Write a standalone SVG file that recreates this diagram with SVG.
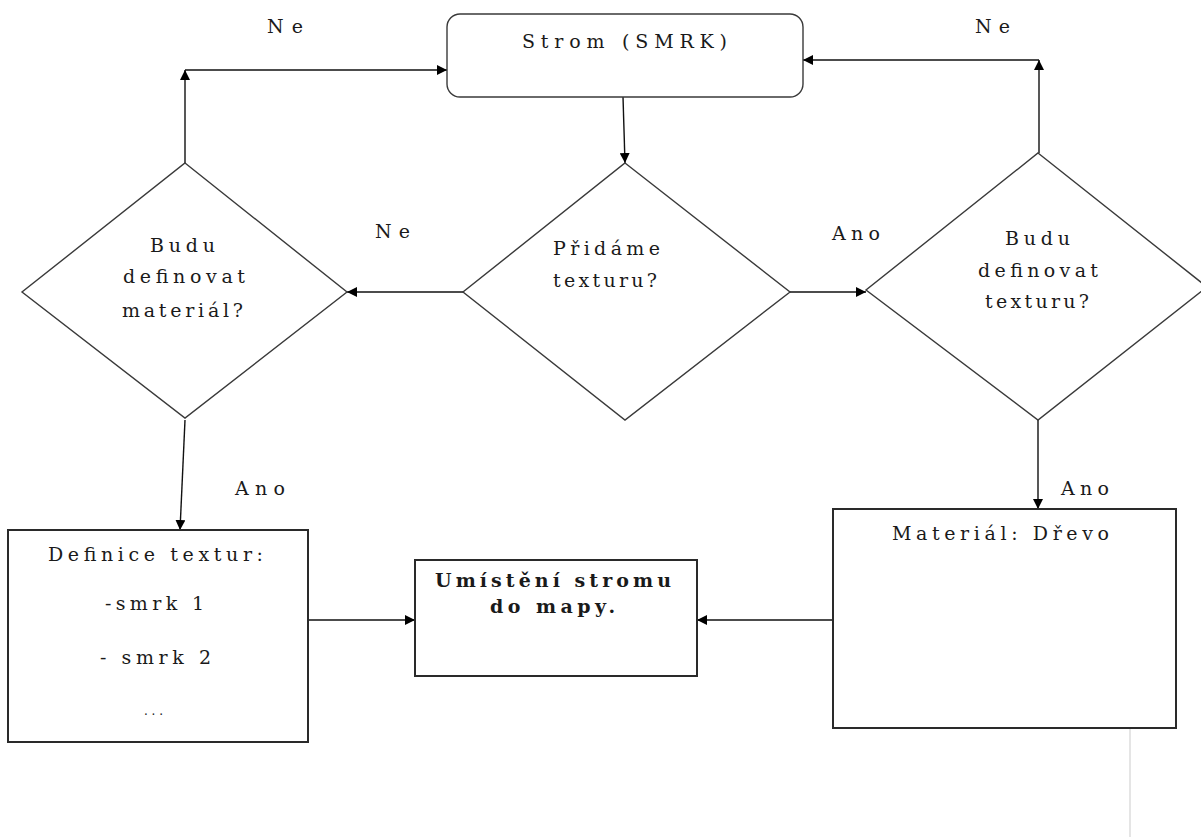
<svg xmlns="http://www.w3.org/2000/svg" width="1201" height="837" viewBox="0 0 1201 837">
<style>
.shape{fill:#fff;stroke:#3a3a3a;stroke-width:1.4}
.box{fill:#fff;stroke:#2a2a2a;stroke-width:2}
.t{font-family:"DejaVu Serif","Liberation Serif",serif;font-size:19px;fill:#1a1a1a}
.b{font-weight:bold;font-size:19px}
.c{stroke:#111;stroke-width:1.4;fill:none;marker-end:url(#ah)}
</style>
<defs>
<marker id="ah" viewBox="0 0 10 10" refX="10" refY="5" markerWidth="10" markerHeight="10" markerUnits="userSpaceOnUse" orient="auto">
<path d="M0,0 L10,5 L0,10 z" fill="#000"/>
</marker>
</defs>
<rect width="1201" height="837" fill="#fff"/>
<line x1="1130" y1="510" x2="1130" y2="837" stroke="#dcdcdc" stroke-width="1.5"/>

<g id="connectors">
<line class="c" x1="623" y1="97" x2="625" y2="163"/>
<line class="c" x1="463" y1="292" x2="347" y2="292"/>
<line class="c" x1="790" y1="292" x2="866" y2="292"/>
<line class="c" x1="185" y1="163" x2="185" y2="70"/>
<line class="c" x1="185" y1="70" x2="447" y2="70"/>
<line class="c" x1="1039" y1="153" x2="1039" y2="60"/>
<line class="c" x1="1039" y1="60" x2="803" y2="60"/>
<line class="c" x1="185" y1="420" x2="180" y2="530"/>
<line class="c" x1="1038" y1="420" x2="1038" y2="509"/>
<line class="c" x1="308" y1="620" x2="415" y2="620"/>
<line class="c" x1="833" y1="620" x2="697" y2="620"/>
</g>

<g id="labels">
<text class="t" x="267" y="33" textLength="36" lengthAdjust="spacing">Ne</text>
<text class="t" x="975" y="33" textLength="35" lengthAdjust="spacing">Ne</text>
<text class="t" x="375" y="238" textLength="35" lengthAdjust="spacing">Ne</text>
<text class="t" x="832" y="240" textLength="48" lengthAdjust="spacing">Ano</text>
<text class="t" x="235" y="495" textLength="50" lengthAdjust="spacing">Ano</text>
<text class="t" x="1061" y="495" textLength="48" lengthAdjust="spacing">Ano</text>
</g>

<g id="strom">
<rect class="shape" x="447" y="14" width="356" height="83" rx="13"/>
<text class="t" x="522" y="48" textLength="205" lengthAdjust="spacing">Strom (SMRK)</text>
</g>

<g id="pridame">
<polygon class="shape" points="625,163 790,292 625,420 463,292"/>
<text class="t" x="553" y="255" textLength="107" lengthAdjust="spacing">Přidáme</text>
<text class="t" x="553" y="287" textLength="104" lengthAdjust="spacing">texturu?</text>
</g>

<g id="material-q">
<polygon class="shape" points="185,163 347,292 185,418 22,292"/>
<text class="t" x="150" y="252" textLength="65" lengthAdjust="spacing">Budu</text>
<text class="t" x="123" y="283" textLength="122" lengthAdjust="spacing">definovat</text>
<text class="t" x="122" y="317" textLength="121" lengthAdjust="spacing">materiál?</text>
</g>

<g id="textura-q">
<polygon class="shape" points="1038,153 1207,287 1038,420 866,290"/>
<text class="t" x="1005" y="245" textLength="65" lengthAdjust="spacing">Budu</text>
<text class="t" x="978" y="277" textLength="120" lengthAdjust="spacing">definovat</text>
<text class="t" x="985" y="308" textLength="104" lengthAdjust="spacing">texturu?</text>
</g>

<g id="definice">
<rect class="box" x="8" y="530" width="300" height="212"/>
<text class="t" x="48" y="561" textLength="215" lengthAdjust="spacing">Definice textur:</text>
<text class="t" x="105" y="610" textLength="99" lengthAdjust="spacing">-smrk 1</text>
<text class="t" x="100" y="664" textLength="111" lengthAdjust="spacing">- smrk 2</text>
<text class="t" x="144" y="715" textLength="19" lengthAdjust="spacing" style="font-size:12px">...</text>
</g>

<g id="umisteni">
<rect class="box" x="415" y="560" width="282" height="116"/>
<text class="t b" x="435" y="587" textLength="236" lengthAdjust="spacing">Umístění stromu</text>
<text class="t b" x="490" y="613" textLength="125" lengthAdjust="spacing">do mapy.</text>
</g>

<g id="drevo">
<rect class="box" x="833" y="509" width="343" height="219"/>
<text class="t" x="892" y="540" textLength="217" lengthAdjust="spacing">Materiál: Dřevo</text>
</g>
</svg>
